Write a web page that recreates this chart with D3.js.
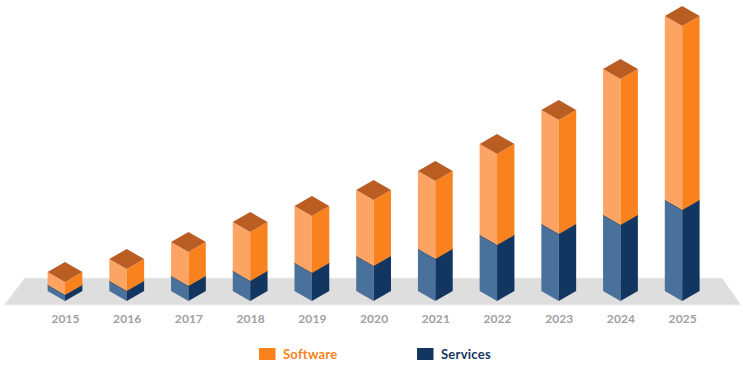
<!DOCTYPE html>
<html>
<head>
<meta charset="utf-8">
<script src="https://cdn.jsdelivr.net/npm/d3@7"></script>
<style>
  html, body { margin: 0; padding: 0; background: #fff; }
  svg { display: block; }
  .tick text { font-family: Lato, sans-serif; font-weight: 700; font-size: 12px; fill: #a0a0a0; letter-spacing: 0.1px; }
  .legend-label { font-family: Lato, sans-serif; font-weight: 700; font-size: 13px; letter-spacing: 0.25px; }
</style>
</head>
<body>
<svg id="chart" width="743" height="365"></svg>
<script>
// Values (no value axis in the original, units are relative)
const years = ['2015', '2016', '2017', '2018', '2019', '2020', '2021', '2022', '2023', '2024', '2025'];
const services = [6, 10, 15, 20, 28, 35, 42, 56, 67, 76, 91];
const software = [13, 22, 34, 49, 57, 66, 78, 91, 114, 146, 184];

const seriesNames = ['services', 'software'];
const legendNames = ['Software', 'Services'];

const colors = {
  software: { left: '#fba463', right: '#f9821e', top: '#b95d23' },
  services: { left: '#4a709c', right: '#133660' },
};

const svg = d3.select('#chart');

const table = years.map((year, i) => ({ year, services: services[i], software: software[i] }));
const stacked = d3.stack().keys(seriesNames)(table);

// Bar centres, and height measured on the front edge of each bar
const x = d3.scalePoint().domain(years).range([65, 682.2]);
const y = d3.scaleLinear().domain([0, 275]).range([301, 26]);

const halfWidth = 17.4;
const rise = 10; // vertical drop from the side corners to the front corner

// Floor
svg.append('polygon')
  .attr('points', '4,305 25,278 722,278 741,305')
  .attr('fill', '#dedede')
  .attr('stroke', '#f0f0f0')
  .attr('stroke-width', 1);

const points = (pts) => pts.map((p) => p.join(',')).join(' ');

// One group per series, bottom one first
stacked.forEach((layer) => {
  const c = colors[layer.key];
  const group = svg.append('g').attr('class', `series-${layer.key}`);

  layer.forEach((d) => {
    const cx = x(d.data.year);
    const y0 = y(d[0]);
    const y1 = y(d[1]);

    group.append('polygon')
      .attr('fill', c.left)
      .attr('points', points([
        [cx - halfWidth, y1 - rise], [cx, y1], [cx, y0], [cx - halfWidth, y0 - rise],
      ]));

    group.append('polygon')
      .attr('fill', c.right)
      .attr('points', points([
        [cx, y1], [cx + halfWidth, y1 - rise], [cx + halfWidth, y0 - rise], [cx, y0],
      ]));

    if (c.top) {
      group.append('polygon')
        .attr('fill', c.top)
        .attr('points', points([
          [cx, y1], [cx + halfWidth, y1 - rise], [cx, y1 - 2 * rise], [cx - halfWidth, y1 - rise],
        ]));
    } else {
      // dark seam where the orange block sits on the blue one
      group.append('polyline')
        .attr('fill', 'none')
        .attr('stroke', c.right)
        .attr('stroke-width', 1)
        .attr('points', points([[cx - halfWidth, y1 - rise], [cx, y1], [cx + halfWidth, y1 - rise]]));
    }
  });
});

// Year labels
const axis = svg.append('g')
  .attr('transform', 'translate(0,312)')
  .call(d3.axisBottom(x).tickSize(0).tickPadding(0));
axis.select('.domain').remove();
axis.selectAll('text').attr('dy', '0.9em');

// Legend
const legendX = d3.scaleOrdinal().domain(legendNames).range([259, 417]);
const legendColor = d3.scaleOrdinal().domain(legendNames).range([colors.software.right, colors.services.right]);

const legend = svg.append('g')
  .selectAll('g')
  .data(legendNames)
  .join('g')
  .attr('transform', (d) => `translate(${legendX(d)},348)`);

legend.append('rect')
  .attr('width', 16.5)
  .attr('height', 12)
  .attr('fill', (d) => legendColor(d));

legend.append('text')
  .attr('class', 'legend-label')
  .attr('x', 24)
  .attr('y', 11)
  .attr('fill', (d) => legendColor(d))
  .text((d) => d);
</script>
</body>
</html>
